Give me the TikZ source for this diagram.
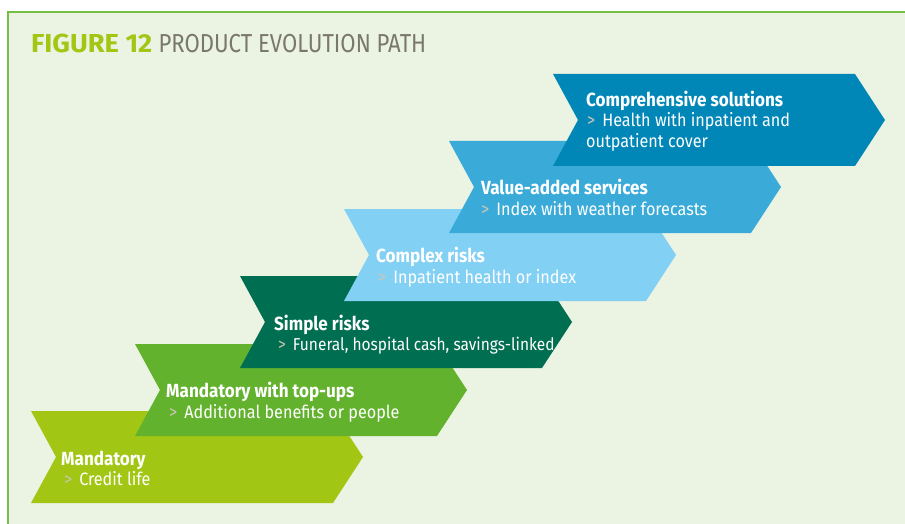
\documentclass[tikz,border=0pt]{standalone}
\usepackage{fontspec}
\setmainfont{Fira Sans}[FakeStretch=0.9]
\newfontfamily\titlefont{Fira Sans}[FakeStretch=0.85]
\newfontfamily\titlebold{Fira Sans}[FakeStretch=1.05]
\usetikzlibrary{positioning,calc}

\definecolor{pagebg}{HTML}{EBF3E3}
\definecolor{framegreen}{HTML}{76BF45}
\definecolor{mandcol}{HTML}{A2C614}
\definecolor{topupcol}{HTML}{63B22E}
\definecolor{simplecol}{HTML}{006E50}
\definecolor{complexcol}{HTML}{83D0F5}
\definecolor{valuecol}{HTML}{3AABD9}
\definecolor{compcol}{HTML}{0087B7}
\definecolor{titlegrey}{HTML}{7A7868}
\definecolor{pointgrey}{HTML}{C8C6B4}

% one step of the path: name, left x, middle y, colour
\newcommand{\chevron}[4]{%
  \coordinate (#1) at (#2,#3);
  \fill[#4] (#1) ++(0,-46) -- ++(302,0) -- ++(30,46) -- ++(-30,46)
    -- ++(-302,0) -- ++(25,-46) -- cycle;
}
\newcommand{\pointer}{\textcolor{pointgrey}{>}\hspace{7pt}}

\begin{document}
\begin{tikzpicture}[x=1pt, y=-1pt,
    head/.style={anchor=base west, inner sep=0pt, text=white,
      font=\fontsize{19}{21}\selectfont\bfseries},
    desc/.style={anchor=base west, inner sep=0pt, text=white,
      font=\fontsize{18}{21}\selectfont}
  ]
  \useasboundingbox (0,0) rectangle (905,524);
  \fill[white] (0,0) rectangle (905,524);
  \fill[pagebg] (8,12) rectangle (905,524);
  \draw[framegreen, line width=1.5pt] (8,524) -- (8,12) -- (905,12);

  \node[anchor=base west, inner sep=0pt, font=\fontsize{26}{30}\selectfont]
    (title) at (31,53) {\textcolor{mandcol}{\titlebold\bfseries FIGURE 12}
      \textcolor{titlegrey}{\titlefont PRODUCT EVOLUTION PATH}};

  \chevron{c1}{31}{457}{mandcol}
  \chevron{c2}{135}{390}{topupcol}
  \chevron{c3}{240}{322}{simplecol}
  \chevron{c4}{344}{255}{complexcol}
  \chevron{c5}{449}{187}{valuecol}
  \chevron{c6}{553}{120}{compcol}

  \node[head] (h1) at ($(c1)+(30,8)$) {Mandatory};
  \node[desc] (d1) at ($(c1)+(33,28)$) {\pointer Credit life};
  \node[head] (h2) at ($(c2)+(31,7)$) {Mandatory with top-ups};
  \node[desc] (d2) at ($(c2)+(34,28)$) {\pointer Additional benefits or people};
  \node[head] (h3) at ($(c3)+(34,8)$) {Simple risks};
  \node[desc, font=\fontsize{17.2}{21}\selectfont] (d3) at ($(c3)+(38,28)$)
    {\pointer Funeral, hospital cash, savings-linked};
  \node[head] (h4) at ($(c4)+(32,7)$) {Complex risks};
  \node[desc] (d4) at ($(c4)+(34,28)$) {\pointer Inpatient health or index};
  \node[head] (h5) at ($(c5)+(32,7)$) {Value-added services};
  \node[desc] (d5) at ($(c5)+(32,28)$) {\pointer Index with weather forecasts};
  \node[head] (h6) at ($(c6)+(33,-13)$) {Comprehensive solutions};
  \node[desc] (d6) at ($(c6)+(34,7)$) {\pointer Health with inpatient and};
  \node[desc] (e6) at ($(c6)+(33,27)$) {outpatient cover};
\end{tikzpicture}
\end{document}
